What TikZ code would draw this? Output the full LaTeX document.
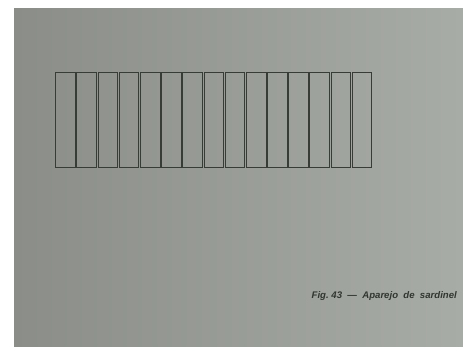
\documentclass[tikz,border=0pt]{standalone}
\usepackage{fontspec}
\setsansfont{Liberation Sans}
\usepackage{tikz}
\usetikzlibrary{positioning}

\definecolor{paper}{RGB}{138,141,136}
\definecolor{paperlight}{RGB}{168,172,166}
\definecolor{ink}{RGB}{55,60,55}

\begin{document}
\begin{tikzpicture}[x=1pt, y=-1pt,
    brick/.style={draw=ink, line width=1pt, minimum width=19.6pt, minimum height=95pt, inner sep=0pt, outer sep=0pt},
    caption/.style={font=\sffamily\bfseries\itshape\fontsize{9.6}{11}\selectfont, text=ink!90!black, inner sep=0pt}]
  \useasboundingbox (0,0) rectangle (463,347);
  \fill[white] (0,0) rectangle (463,347);
  \shade[left color=paper, right color=paperlight] (14,9) rectangle (463,347);
  % sardinel bricks
  \foreach \i in {0,...,14}
    \node[brick] (brick-\i) at (65.6+21.18*\i,120.5) {};
  \node[caption, anchor=east] (fig) at (457,296) {Fig.~43 ~---~ Aparejo~~de~~sardinel};
\end{tikzpicture}
\end{document}
